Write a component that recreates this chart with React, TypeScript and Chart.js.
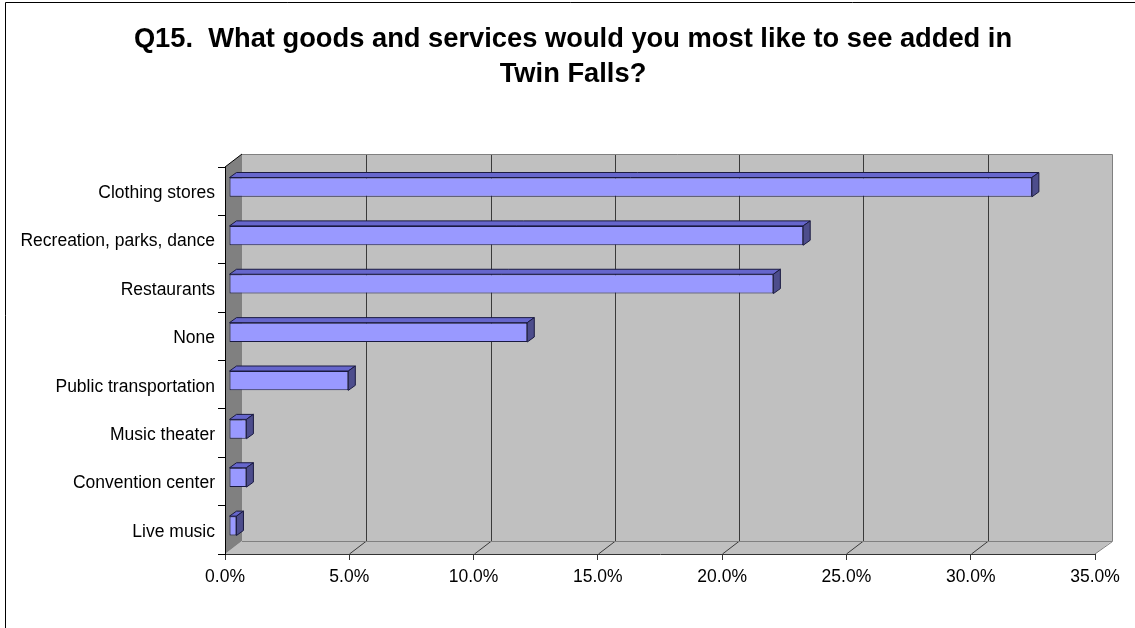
import React, { useEffect, useRef } from 'react';
import { Chart, registerables } from 'chart.js';

Chart.register(...registerables);

const titleLines = [
  'Q15.  What goods and services would you most like to see added in',
  'Twin Falls?',
];
const categories = [
  'Clothing stores',
  'Recreation, parks, dance',
  'Restaurants',
  'None',
  'Public transportation',
  'Music theater',
  'Convention center',
  'Live music',
];
const shares = [32.3, 23.1, 21.9, 12.0, 4.8, 0.7, 0.7, 0.3];
const axisMin = 0;
const axisMax = 35;
const axisStep = 5;

const FONT = '"Liberation Sans", Arial, Helvetica, sans-serif';
const WALL_DX = 17;
const WALL_DY = 13;
const BAR_SHIFT_X = 4;
const BAR_SHIFT_Y = -4;
const BAR_DX = 7;
const BAR_DY = 5;

const threeD = {
  id: 'threeD',
  beforeDraw(chart: any) {
    const { ctx, chartArea: a, scales } = chart;
    const xs = scales.x;
    const L = a.left, R = a.right, T = a.top, B = a.bottom;
    ctx.save();
    ctx.fillStyle = '#ffffff';
    ctx.fillRect(0, 0, chart.width, chart.height);
    // outer frame
    ctx.strokeStyle = '#000';
    ctx.lineWidth = 1;
    ctx.beginPath();
    ctx.moveTo(5.5, chart.height);
    ctx.lineTo(5.5, 2.5);
    ctx.lineTo(chart.width, 2.5);
    ctx.stroke();

    // title
    ctx.fillStyle = '#000';
    ctx.font = 'bold 27.3px ' + FONT;
    ctx.textAlign = 'center';
    ctx.textBaseline = 'middle';
    ctx.fillText(titleLines[0], 573, 39);
    ctx.fillText(titleLines[1], 573, 74.5);

    // back wall
    ctx.fillStyle = '#C0C0C0';
    ctx.fillRect(L + WALL_DX, T - WALL_DY, R - L, B - T);
    // floor
    ctx.beginPath();
    ctx.moveTo(L, B);
    ctx.lineTo(R, B);
    ctx.lineTo(R + WALL_DX, B - WALL_DY);
    ctx.lineTo(L + WALL_DX, B - WALL_DY);
    ctx.closePath();
    ctx.fill();
    // left wall
    ctx.fillStyle = '#808080';
    ctx.beginPath();
    ctx.moveTo(L, T);
    ctx.lineTo(L + WALL_DX, T - WALL_DY);
    ctx.lineTo(L + WALL_DX, B - WALL_DY);
    ctx.lineTo(L, B);
    ctx.closePath();
    ctx.fill();

    // gridlines on back wall and floor
    ctx.strokeStyle = '#3A3A3A';
    ctx.lineWidth = 1;
    for (let v = axisMin + axisStep; v < axisMax; v += axisStep) {
      const px = Math.round(xs.getPixelForValue(v)) + 0.5;
      ctx.beginPath();
      ctx.moveTo(px + WALL_DX, T - WALL_DY);
      ctx.lineTo(px + WALL_DX, B - WALL_DY);
      ctx.moveTo(px, B);
      ctx.lineTo(px + WALL_DX, B - WALL_DY);
      ctx.stroke();
    }
    // wall borders
    ctx.strokeStyle = '#808080';
    ctx.beginPath();
    ctx.moveTo(L + WALL_DX, T - WALL_DY + 0.5);
    ctx.lineTo(R + WALL_DX + 0.5, T - WALL_DY + 0.5);
    ctx.lineTo(R + WALL_DX + 0.5, B - WALL_DY + 0.5);
    ctx.lineTo(R, B);
    ctx.moveTo(L + WALL_DX, B - WALL_DY + 0.5);
    ctx.lineTo(R + WALL_DX, B - WALL_DY + 0.5);
    ctx.stroke();
    // left wall top edge
    ctx.strokeStyle = '#000';
    ctx.beginPath();
    ctx.moveTo(L, T);
    ctx.lineTo(L + WALL_DX, T - WALL_DY);
    ctx.stroke();
    ctx.restore();
  },
  beforeDatasetsDraw(chart: any) {
    chart.ctx.save();
    chart.ctx.translate(BAR_SHIFT_X, BAR_SHIFT_Y);
  },
  afterDatasetsDraw(chart: any) {
    const ctx = chart.ctx;
    const meta = chart.getDatasetMeta(0);
    ctx.lineWidth = 1;
    ctx.strokeStyle = '#1A1A40';
    meta.data.forEach((el: any) => {
      const { x, y, base, height } = el.getProps(['x', 'y', 'base', 'height'], true);
      const top = y - height / 2;
      const bottom = y + height / 2;
      const left = base;
      const right = x;
      // top face
      ctx.fillStyle = '#6666CC';
      ctx.beginPath();
      ctx.moveTo(left, top);
      ctx.lineTo(right, top);
      ctx.lineTo(right + BAR_DX, top - BAR_DY);
      ctx.lineTo(left + BAR_DX, top - BAR_DY);
      ctx.closePath();
      ctx.fill();
      ctx.stroke();
      // side face
      ctx.fillStyle = '#4D4D8C';
      ctx.beginPath();
      ctx.moveTo(right, top);
      ctx.lineTo(right + BAR_DX, top - BAR_DY);
      ctx.lineTo(right + BAR_DX, bottom - BAR_DY);
      ctx.lineTo(right, bottom);
      ctx.closePath();
      ctx.fill();
      ctx.stroke();
    });
    ctx.restore();
  },
};

export default function App() {
  const ref = useRef<HTMLCanvasElement>(null);
  useEffect(() => {
    const chart = new Chart(ref.current as HTMLCanvasElement, {
      type: 'bar',
      data: {
        labels: categories,
        datasets: [
          {
            data: shares,
            backgroundColor: '#9999FF',
            borderColor: '#1A1A40',
            borderWidth: 1,
            borderSkipped: false,
            barPercentage: 0.4,
            categoryPercentage: 1,
          },
        ],
      },
      options: {
        indexAxis: 'y',
        responsive: false,
        animation: false,
        layout: { padding: { left: 0, right: 40, top: 167, bottom: 0 } },
        plugins: {
          legend: { display: false },
          tooltip: { enabled: false },
          title: { display: false },
        },
        scales: {
          x: {
            type: 'linear',
            min: axisMin,
            max: axisMax,
            ticks: {
              stepSize: axisStep,
              callback: (v: any) => Number(v).toFixed(1) + '%',
              color: '#000',
              font: { family: FONT, size: 17.5 },
              padding: 7,
              maxRotation: 0,
            },
            grid: { display: true, drawOnChartArea: false, drawTicks: true, tickLength: 6, color: '#333' },
            border: { display: true, color: '#333' },
            afterFit: (s: any) => {
              s.height = 74;
            },
          },
          y: {
            type: 'category',
            ticks: { color: '#000', font: { family: FONT, size: 17.5 }, padding: 3, labelOffset: 2 },
            grid: { offset: true, drawOnChartArea: false, drawTicks: true, tickLength: 7, color: '#000' },
            border: { display: true, color: '#000' },
            afterFit: (s: any) => {
              s.width = 225;
            },
          },
        },
      },
      plugins: [threeD],
    } as any);
    return () => chart.destroy();
  }, []);
  return (
    <div style={{ position: 'absolute', left: 0, top: 0, width: 1135, height: 628, background: '#fff' }}>
      <canvas ref={ref} width={1135} height={628} style={{ display: 'block' }} />
    </div>
  );
}
